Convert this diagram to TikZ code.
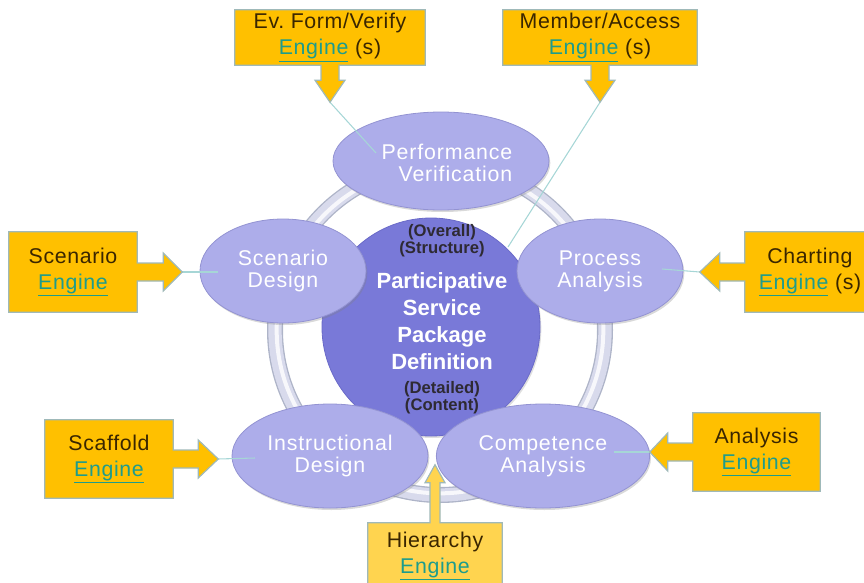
\documentclass[tikz,border=0pt]{standalone}
\usepackage{fontspec}
\setmainfont{Liberation Sans}
\newfontfamily\calfont{Liberation Sans}[LetterSpace=3]
\newfontfamily\ellfont{Liberation Sans}[LetterSpace=4]
\usetikzlibrary{shapes.geometric,calc,shadows}
\definecolor{callfill}{HTML}{FFC000}
\definecolor{hifill}{HTML}{FFD44F}
\definecolor{callline}{HTML}{9FB9B9}
\definecolor{engc}{HTML}{1E9C8C}
\definecolor{calltxt}{HTML}{3A2600}
\definecolor{ellfill}{HTML}{ADADEA}
\definecolor{ellline}{HTML}{9393D2}
\definecolor{cenfill}{HTML}{7979D8}
\definecolor{cenline}{HTML}{6A6AC8}
\definecolor{ringc}{HTML}{D8DAEC}
\definecolor{ringb}{HTML}{AEB4C8}
\definecolor{connc}{HTML}{A6D6D6}
\definecolor{smalltxt}{HTML}{2E2A33}
\pgfdeclarelayer{bg}
\pgfdeclarelayer{callbg}
\pgfsetlayers{bg,callbg,main}
\newcommand\eng{\textcolor{engc}{\underline{Engine}}}
% down arrow callout: #1 node, #2 shaft length, #3 head length, #4 shaft half, #5 head half
\newcommand\mkdown[5]{%
 \path[callout] (#1.north west) -- (#1.north east) -- (#1.south east)
 -- ($(#1.south)+(#4,0)$) -- ($(#1.south)+(#4,#2)$) -- ($(#1.south)+(#5,#2)$)
 -- ($(#1.south)+(0,#2+#3)$) -- ($(#1.south)+(-#5,#2)$) -- ($(#1.south)+(-#4,#2)$)
 -- ($(#1.south)+(-#4,0)$) -- (#1.south west) -- cycle;}
\newcommand\mkup[5]{%
 \path[callout] (#1.south west) -- (#1.south east) -- (#1.north east)
 -- ($(#1.north)+(#4,0)$) -- ($(#1.north)+(#4,-#2)$) -- ($(#1.north)+(#5,-#2)$)
 -- ($(#1.north)+(0,-#2-#3)$) -- ($(#1.north)+(-#5,-#2)$) -- ($(#1.north)+(-#4,-#2)$)
 -- ($(#1.north)+(-#4,0)$) -- (#1.north west) -- cycle;}
\newcommand\mkright[5]{%
 \path[callout] (#1.north east) -- (#1.north west) -- (#1.south west) -- (#1.south east)
 -- ($(#1.east)+(0,#4)$) -- ($(#1.east)+(#2,#4)$) -- ($(#1.east)+(#2,#5)$)
 -- ($(#1.east)+(#2+#3,0)$) -- ($(#1.east)+(#2,-#5)$) -- ($(#1.east)+(#2,-#4)$)
 -- ($(#1.east)+(0,-#4)$) -- cycle;}
\newcommand\mkleft[5]{%
 \path[callout] (#1.north west) -- (#1.north east) -- (#1.south east) -- (#1.south west)
 -- ($(#1.west)+(0,#4)$) -- ($(#1.west)+(-#2,#4)$) -- ($(#1.west)+(-#2,#5)$)
 -- ($(#1.west)+(-#2-#3,0)$) -- ($(#1.west)+(-#2,-#5)$) -- ($(#1.west)+(-#2,-#4)$)
 -- ($(#1.west)+(0,-#4)$) -- cycle;}
\begin{document}
\begin{tikzpicture}[x=0.75pt,y=-0.75pt,
  callout/.style={fill=callfill,draw=callline,line width=0.9pt,line join=miter},
  hicallout/.style={fill=hifill,draw=callline,line width=0.9pt},
  callbox/.style={rectangle,inner sep=0pt,align=center,text=calltxt,
     font=\calfont\fontsize{16}{19.5}\selectfont},
  ellnode/.style={ellipse,inner sep=0pt,fill=ellfill,draw=ellline,line width=0.6pt,
     drop shadow={opacity=0.3,shadow xshift=1pt,shadow yshift=-1.5pt},
     text=white,align=center,font=\ellfont\fontsize{16}{16.5}\selectfont},
  elltext/.style={text=white,inner sep=0pt,font=\ellfont\fontsize{16}{16.5}\selectfont},
  conn/.style={draw=connc,line width=0.8pt},
  smalltext/.style={text=smalltxt,align=center,inner sep=0pt,
     font=\bfseries\fontsize{12.5}{12.75}\selectfont},
  maintext/.style={text=white,align=center,inner sep=0pt,
     font=\bfseries\fontsize{16.5}{20.25}\selectfont}]
\useasboundingbox (0,0) rectangle (864,582);
\begin{pgfonlayer}{bg}
 % ring
 \node[circle,draw=ringb,line width=12pt,minimum size=247.5pt,inner sep=0pt] (ring) at (440,330) {};
 \draw[ringc,line width=10pt] (ring.center) circle[radius=123.75pt];
 \draw[white,line width=3pt,opacity=0.8] (ring.center) circle[radius=122.5pt];
 % centre
 \node[circle,fill=cenfill,draw=cenline,line width=0.6pt,minimum size=163.5pt,inner sep=0pt,
   drop shadow={opacity=0.25,shadow xshift=1pt,shadow yshift=-1.5pt}] (cen) at (431,327) {};
 % ellipses
 \node[ellnode,minimum width=162pt,minimum height=73.5pt] (pv) at (441,161) {};
 \node[elltext,align=right] (pvlabel) at (447,163) {Performance\\Verification};
 \node[ellnode,minimum width=124.5pt,minimum height=78pt] (sd) at (283,271) {Scenario\\Design};
 \node[ellnode,minimum width=124.5pt,minimum height=78pt] (pa) at (600,271) {Process\\Analysis};
 \node[ellnode,minimum width=147pt,minimum height=78pt] (id) at (330,456) {Instructional\\Design};
 \node[ellnode,minimum width=160pt,minimum height=78pt] (ca) at (543,456) {Competence\\Analysis};
 % centre text
 \node[smalltext] (ctop) at (442,241) {(Overall)\\(Structure)};
 \node[maintext] (cmain) at (442,321) {Participative\\Service\\Package\\Definition};
 \node[smalltext] (cbot) at (442,398) {(Detailed)\\(Content)};
\end{pgfonlayer}
% callout boxes
\node[callbox,minimum width=142.5pt,minimum height=41.25pt] (ev) at (330,37.5) {Ev.\ Form/Verify\\\eng\ (s)};
\node[callbox,minimum width=145.5pt,minimum height=41.25pt] (ma) at (600,37.5) {Member/Access\\\eng\ (s)};
\node[callbox,minimum width=96pt,minimum height=60pt] (sc) at (73,272) {Scenario\\\eng};
\node[callbox,minimum width=97.5pt,minimum height=60pt] (ch) at (810,272) {Charting\\\eng\ (s)};
\node[callbox,minimum width=96pt,minimum height=58.5pt] (sf) at (109,459) {Scaffold\\\eng};
\node[callbox,minimum width=95.25pt,minimum height=58.5pt] (an) at (756.5,452) {Analysis\\\eng};
\node[callbox,minimum width=100.5pt,minimum height=60pt] (hi) at (435,563) {};
\node[callbox] (hitext) at (435,556) {Hierarchy\\\eng};
\begin{pgfonlayer}{callbg}
 \mkdown{ev}{15}{22}{9}{15}
 \mkdown{ma}{15}{22}{9}{15}
 \mkright{sc}{26}{19}{9}{19}
 \mkleft{ch}{25}{20}{9}{19}
 \mkright{sf}{25}{20}{9}{19}
 \mkleft{an}{25}{18}{9}{19}
 \begin{scope}[callout/.style={hicallout}]
  \mkup{hi}{40}{18}{5}{10}
 \end{scope}
\end{pgfonlayer}
% arrow tips and connector ends
\coordinate (evtip) at ($(ev.south)+(0,37)$);
\coordinate (matip) at ($(ma.south)+(0,37)$);
\coordinate (sctip) at ($(sc.east)+(45,0)$);
\coordinate (chtip) at ($(ch.west)+(-45,0)$);
\coordinate (sftip) at ($(sf.east)+(45,0)$);
\coordinate (antip) at ($(an.west)+(-43,0)$);
\coordinate (pvend) at (376,153);
\coordinate (cenend) at (508,247);
\coordinate (sdend) at (218,272);
\coordinate (paend) at (662,269);
\coordinate (idend) at (255,458);
\coordinate (caend) at (614,452);
\begin{pgfonlayer}{bg}
 \draw[conn] (evtip) -- (pvend);
 \draw[conn] (matip) -- (cenend);
 \draw[conn] (sctip) -- (sdend);
 \draw[conn] (chtip) -- (paend);
 \draw[conn] (sftip) -- (idend);
 \draw[conn] (antip) -- (caend);
\end{pgfonlayer}
\end{tikzpicture}
\end{document}
